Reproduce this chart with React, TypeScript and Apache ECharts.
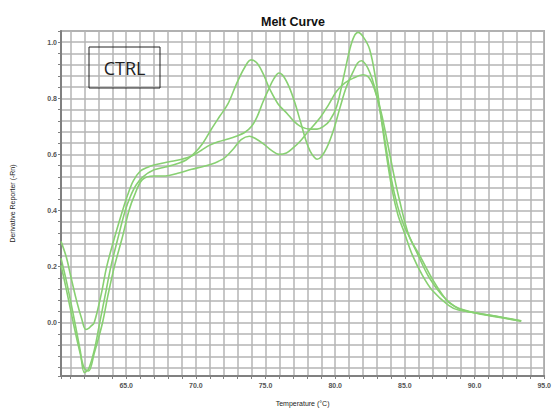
import React, { useEffect, useRef } from "react";
import * as echarts from "echarts";

const X_MIN = 60.32;
const X_MAX = 95;
const Y_MIN = -0.19;
const Y_MAX = 1.04;

const chartTitle = "Melt Curve";
const xName = "Temperature (°C)";
const yName = "Derivative Reporter (-Rn)";
const annotation = "CTRL";

// Curve 1: shallow trough, peak near 76 °C
const curve1Temps = [60.32, 60.7, 61.0, 61.4, 61.8, 62.1, 62.3, 62.45, 62.7, 63.2, 63.6, 64.2, 64.74, 65.1, 65.5, 66.0, 66.5, 67.0, 68.0, 69.0, 69.7, 70.4, 71.0, 71.6, 72.3, 72.9, 73.5, 74.0, 74.4, 74.8, 75.2, 75.6, 75.97, 76.3, 76.7, 77.1, 77.5, 77.9, 78.2, 78.5, 78.7, 79.0, 79.4, 79.9, 80.34, 80.8, 81.3, 81.6, 81.88, 82.2, 82.5, 82.8, 83.2, 83.6, 84.0, 84.45, 84.9, 85.19, 85.9, 86.72, 87.67, 88.6, 89.2, 90.3, 91.7, 93.35];
const curve1Values = [0.29, 0.234, 0.17, 0.086, 0.015, -0.024, -0.02, -0.013, 0.0, 0.1, 0.2, 0.31, 0.4, 0.455, 0.505, 0.54, 0.553, 0.562, 0.573, 0.583, 0.594, 0.615, 0.633, 0.645, 0.655, 0.665, 0.678, 0.7, 0.735, 0.785, 0.83, 0.87, 0.89, 0.878, 0.84, 0.785, 0.718, 0.65, 0.612, 0.59, 0.583, 0.592, 0.624, 0.69, 0.766, 0.84, 0.896, 0.925, 0.934, 0.92, 0.89, 0.845, 0.76, 0.64, 0.52, 0.42, 0.35, 0.32, 0.246, 0.163, 0.098, 0.057, 0.044, 0.033, 0.021, 0.006];

// Curve 2: deep trough, peak near 74 °C, highest peak near 81.6 °C
const curve2Temps = [60.32, 60.7, 61.2, 61.7, 62.0, 62.3, 62.7, 63.1, 63.5, 63.9, 64.4, 64.93, 65.3, 65.7, 66.2, 67.0, 67.8, 68.7, 69.3, 69.9, 70.5, 71.1, 71.7, 72.3, 72.9, 73.5, 73.96, 74.4, 74.9, 75.26, 75.9, 76.56, 77.0, 77.5, 78.2, 78.7, 79.16, 79.6, 80.1, 80.6, 81.05, 81.35, 81.64, 82.0, 82.47, 82.9, 83.3, 83.7, 84.1, 84.5, 84.95, 85.55, 86.26, 86.96, 88.14, 88.85, 90.3, 91.7, 93.35];
const curve2Values = [0.23, 0.15, 0.03, -0.1, -0.178, -0.165, -0.1, 0.0, 0.1, 0.2, 0.3, 0.4, 0.45, 0.49, 0.52, 0.545, 0.555, 0.568, 0.58, 0.605, 0.64, 0.689, 0.735, 0.78, 0.85, 0.91, 0.937, 0.925, 0.88, 0.837, 0.78, 0.745, 0.72, 0.7, 0.69, 0.69, 0.7, 0.72, 0.77, 0.875, 0.975, 1.02, 1.035, 1.02, 0.975, 0.87, 0.73, 0.59, 0.47, 0.385, 0.323, 0.24, 0.169, 0.116, 0.062, 0.045, 0.034, 0.022, 0.007];

// Curve 3: deep trough, small bump near 73.8 °C
const curve3Temps = [60.32, 60.7, 61.2, 61.7, 62.0, 62.3, 62.7, 63.3, 63.7, 64.15, 64.7, 65.2, 65.6, 66.16, 67.0, 67.8, 68.7, 69.7, 70.4, 71.1, 71.6, 72.1, 72.7, 73.25, 73.84, 74.3, 74.9, 75.4, 75.97, 76.5, 77.0, 77.5, 77.98, 78.9, 79.5, 80.1, 80.7, 81.3, 82.0, 82.4, 82.8, 83.3, 83.8, 84.2, 84.6, 85.3, 86.13, 86.96, 88.0, 88.6, 89.2, 90.3, 91.7, 93.35];
const curve3Values = [0.205, 0.12, 0.0, -0.11, -0.163, -0.172, -0.11, 0.0, 0.1, 0.2, 0.3, 0.4, 0.455, 0.51, 0.523, 0.523, 0.533, 0.547, 0.555, 0.565, 0.575, 0.589, 0.62, 0.653, 0.665, 0.656, 0.636, 0.615, 0.6, 0.605, 0.624, 0.648, 0.677, 0.73, 0.775, 0.825, 0.855, 0.872, 0.884, 0.875, 0.835, 0.75, 0.63, 0.53, 0.44, 0.31, 0.234, 0.157, 0.08, 0.058, 0.046, 0.032, 0.02, 0.005];

const curves = [
  { temps: curve1Temps, values: curve1Values },
  { temps: curve2Temps, values: curve2Values },
  { temps: curve3Temps, values: curve3Values },
];

const LABEL_FONT = "Liberation Sans";

export default function App() {
  const ref = useRef<HTMLDivElement>(null);

  useEffect(() => {
    document.body.style.margin = "0";
    const chart = echarts.init(ref.current!, null, { renderer: "svg" });

    const xFormatter = (v: number) => {
      const t = Math.round((X_MAX - v) * 100) / 100;
      return Math.abs(t / 5 - Math.round(t / 5)) < 1e-6 ? t.toFixed(1) : "";
    };
    const yFormatter = (v: number) => {
      const r = Math.round((Y_MAX - v) * 100) / 100;
      return Math.abs(r / 0.2 - Math.round(r / 0.2)) < 1e-6 ? r.toFixed(1) : "";
    };

    const labelStyle = {
      fontSize: 7,
      color: "#555",
      fontFamily: LABEL_FONT,
      fontWeight: "bold" as const,
    };

    chart.setOption({
      animation: false,
      backgroundColor: "#ffffff",
      title: {
        text: chartTitle,
        left: 256,
        top: 10,
        textStyle: {
          fontFamily: LABEL_FONT,
          fontWeight: "bold",
          fontSize: 12.5,
          color: "#111",
        },
      },
      grid: {
        left: 61,
        right: 3,
        top: 31,
        bottom: 34,
        show: true,
        borderColor: "#8c8c8c",
        borderWidth: 1.5,
        backgroundColor: "transparent",
      },
      xAxis: [
        {
          type: "value",
          inverse: true,
          min: 0,
          max: X_MAX - X_MIN,
          interval: 1,
          axisLine: { show: true, onZero: false, lineStyle: { color: "#808080", width: 2 } },
          axisTick: { show: true, length: 3, lineStyle: { color: "#808080", width: 1 } },
          axisLabel: { ...labelStyle, margin: 6, formatter: xFormatter },
          splitLine: { show: true, lineStyle: { color: "#b4b4b4", width: 1.5 } },
          name: xName,
          nameLocation: "middle",
          nameGap: 24,
          nameTextStyle: { fontSize: 7, color: "#222222", fontFamily: LABEL_FONT },
        },
        { type: "value", min: X_MIN, max: X_MAX, show: false },
      ],
      yAxis: [
        {
          type: "value",
          inverse: true,
          min: 0,
          max: Y_MAX - Y_MIN,
          interval: 0.04,
          position: "left",
          axisLine: { show: true, onZero: false, lineStyle: { color: "#808080", width: 2 } },
          axisTick: { show: true, length: 3, lineStyle: { color: "#808080", width: 1 } },
          axisLabel: { ...labelStyle, margin: 4, formatter: yFormatter },
          splitLine: { show: true, lineStyle: { color: "#b4b4b4", width: 1.5 } },
          name: yName,
          nameLocation: "middle",
          nameGap: 45,
          nameRotate: 90,
          nameTextStyle: { fontSize: 7, color: "#222222", fontFamily: LABEL_FONT },
        },
        { type: "value", min: Y_MIN, max: Y_MAX, show: false },
      ],
      series: curves.map((c) => ({
        type: "line",
        xAxisIndex: 1,
        yAxisIndex: 1,
        data: c.temps.map((t, i) => [t, c.values[i]]),
        smooth: 0.35,
        symbol: "none",
        clip: true,
        lineStyle: { color: "#88d072", width: 1.6 },
      })),
      graphic: [
        {
          type: "rect",
          shape: { x: 89, y: 47, width: 71, height: 41 },
          style: { fill: "none", stroke: "#222", lineWidth: 1 },
          z: 10,
        },
        {
          type: "text",
          x: 124.5,
          y: 67.5,
          style: {
            text: annotation,
            fontSize: 18,
            fontFamily: "Open Sans",
            fill: "#222",
            align: "center",
            verticalAlign: "middle",
          },
          z: 10,
        },
      ],
    });

    return () => chart.dispose();
  }, []);

  return <div ref={ref} style={{ width: 554, height: 412 }} />;
}
